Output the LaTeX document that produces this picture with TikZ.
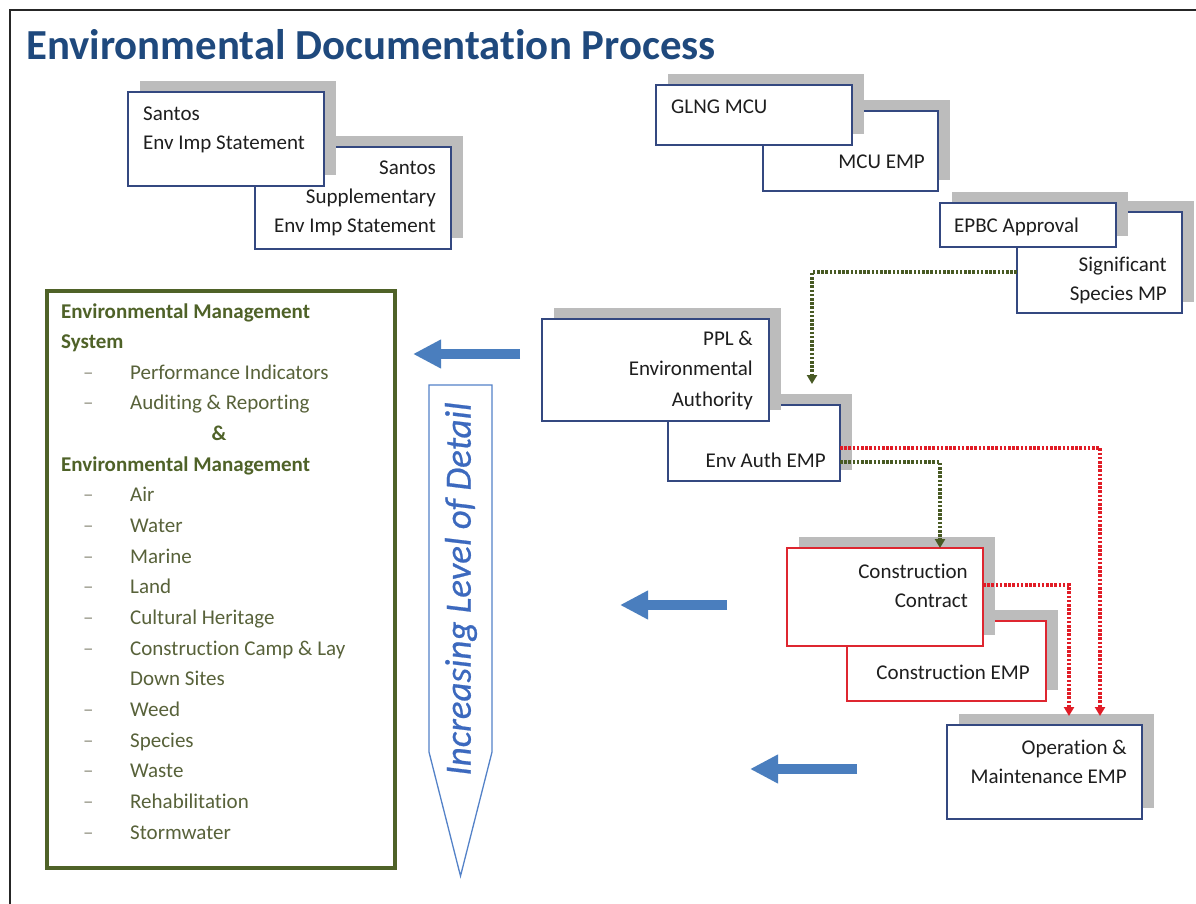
\documentclass[tikz,border=0pt]{standalone}
\usepackage{fontspec}
\setmainfont{Carlito}[Ligatures={NoCommon}]
\newfontfamily\detailfont{Carlito}[ItalicFeatures={FakeBold=0.6}]
\usetikzlibrary{arrows.meta,calc}

\definecolor{titleblue}{RGB}{31,73,125}
\definecolor{boxblue}{RGB}{52,72,128}
\definecolor{boxred}{RGB}{222,38,48}
\definecolor{shadowgray}{RGB}{188,188,188}
\definecolor{ink}{RGB}{30,30,30}
\definecolor{olive}{RGB}{79,98,40}
\definecolor{olivetext}{RGB}{88,98,58}
\definecolor{dashgray}{RGB}{150,150,135}
\definecolor{arrowblue}{RGB}{74,126,190}
\definecolor{pentblue}{RGB}{84,130,200}
\definecolor{detailblue}{RGB}{60,105,190}
\definecolor{dotred}{RGB}{225,28,38}
\definecolor{dotgreen}{RGB}{72,90,36}

\tikzset{
  docbox/.style={rectangle, draw=boxblue, line width=1.2pt, fill=white, inner sep=0pt, outer sep=0pt},
  redbox/.style={docbox, draw=boxred},
  boxtext/.style={font=\fontsize{21}{29}\selectfont, text=ink, inner sep=0pt},
  panelhead/.style={font=\fontsize{21}{29}\selectfont\bfseries, text=olive, inner sep=0pt, anchor=base west},
  paneltext/.style={font=\fontsize{21}{29}\selectfont, text=olivetext, inner sep=0pt, anchor=base west},
  dashmark/.style={font=\fontsize{21}{29}\selectfont, text=dashgray, inner sep=0pt, anchor=base west},
  greendots/.style={draw=dotgreen, line width=3.2pt, dash pattern=on 2.6pt off 1.6pt, -{Triangle[width=10pt,length=9pt,fill=dotgreen]}},
  reddots/.style={draw=dotred, line width=3.2pt, dash pattern=on 2.6pt off 1.6pt, -{Triangle[width=10pt,length=9pt,fill=dotred]}},
  blockarrow/.style={draw=arrowblue, line width=10pt, -{Triangle[width=27pt,length=28pt]}},
}

% shadowed document box: name, style, left, top, right, bottom
\newcommand\shadowdoc[6]{%
  \fill[shadowgray] (#3+12,#4-11) rectangle (#5+12,#6-11);
  \node[#2, anchor=north west, minimum width={(#5-#3)*1pt}, minimum height={(#6-#4)*1pt}] (#1) at (#3,#4) {};
}

\begin{document}
\begin{tikzpicture}[x=1pt,y=-1pt]
\useasboundingbox (0,0) rectangle (1196,904);
\fill[white] (0,0) rectangle (1196,904);

% page frame
\draw[line width=2.5pt, draw=black!85] (10,904) -- (10,10) -- (1196,10);

% title
\node[font=\fontsize{42.8}{48}\selectfont\bfseries, text=titleblue, inner sep=0pt, anchor=base west] (title) at (26,60) {Environmental Documentation Process};

% --- document boxes (lower box of each pair first) ---
\shadowdoc{ssup}{docbox}{255}{147}{451}{249}
\shadowdoc{seis}{docbox}{128}{92}{324}{186}
\node[boxtext, anchor=base west] (seis1) at (143,121) {Santos};
\node[boxtext, anchor=base west] (seis2) at (143,150) {Env Imp Statement};
\node[boxtext, anchor=base east] (ssup1) at (436,175) {Santos};
\node[boxtext, anchor=base east] (ssup2) at (436,204) {Supplementary};
\node[boxtext, anchor=base east] (ssup3) at (436,233) {Env Imp Statement};

\shadowdoc{mcuemp}{docbox}{763}{111}{938}{191}
\shadowdoc{glng}{docbox}{656}{85}{852}{145}
\node[boxtext, anchor=base west] (glng1) at (671,114) {GLNG MCU};
\node[boxtext, anchor=base east] (mcuemp1) at (925,169) {MCU EMP};

\shadowdoc{sig}{docbox}{1017}{212}{1182}{313}
\shadowdoc{epbc}{docbox}{940}{203}{1116}{247}
\node[boxtext, anchor=base west] (epbc1) at (954,232) {EPBC Approval};
\node[boxtext, anchor=base east] (sig1) at (1167,271) {Significant};
\node[boxtext, anchor=base east] (sig2) at (1167,300) {Species MP};

\shadowdoc{eaemp}{docbox}{668}{405}{840}{481}
\shadowdoc{ppl}{docbox}{542}{319}{769}{421}
\node[boxtext, anchor=base east] (ppl1) at (753,345) {PPL \&};
\node[boxtext, anchor=base east] (ppl2) at (753,375) {Environmental};
\node[boxtext, anchor=base east] (ppl3) at (753,406) {Authority};
\node[boxtext, anchor=base east] (eaemp1) at (826,467) {Env Auth EMP};

\shadowdoc{cemp}{redbox}{847}{621}{1046}{701}
\shadowdoc{cc}{redbox}{787}{548}{983}{646}
\node[boxtext, anchor=base east] (cc1) at (968,578) {Construction};
\node[boxtext, anchor=base east] (cc2) at (968,607) {Contract};
\node[boxtext, anchor=base east] (cemp1) at (1030,679) {Construction EMP};

\shadowdoc{om}{docbox}{947}{725}{1142}{819}
\node[boxtext, anchor=base east] (om1) at (1127,754) {Operation \&};
\node[boxtext, anchor=base east] (om2) at (1127,783) {Maintenance EMP};

% --- dotted flow connectors ---
\coordinate (eatip) at (812,384);
\draw[greendots] ([yshift=-9.5pt]sig.west) -| (eatip);
\draw[reddots] ([yshift=-5pt]eaemp.east) -| ([xshift=55.5pt,yshift=9pt]om.north);
\draw[greendots] ([yshift=-19pt]eaemp.east) -| ([xshift=55pt]cc.north);
\draw[reddots] ([yshift=12pt]cc.east) -| ([xshift=24.5pt,yshift=9pt]om.north);

% --- block arrows pointing at the management system ---
\coordinate (a1s) at (520,354); \coordinate (a1e) at (413,354);
\coordinate (a2s) at (727,605); \coordinate (a2e) at (620,605);
\coordinate (a3s) at (857,769); \coordinate (a3e) at (750,769);
\draw[blockarrow] (a1s) -- (a1e);
\draw[blockarrow] (a2s) -- (a2e);
\draw[blockarrow] (a3s) -- (a3e);

% --- level of detail pointer ---
\draw[draw=pentblue, line width=1.3pt, fill=white, line join=miter]
  (429,385) -- (492,385) -- (492,752) -- (460.5,876) -- (429,752) -- cycle;
\node[rotate=90, font=\detailfont\fontsize{37}{42}\selectfont\itshape, text=detailblue, inner sep=0pt] (detail) at (461,589) {Increasing Level of Detail};

% --- management system panel ---
\node[draw=olive, line width=3.5pt, rectangle, inner sep=0pt, anchor=north west, minimum width=348pt, minimum height=577pt] (ems) at (45,289) {};
\node[panelhead] (h0) at (61,318) {Environmental Management};
\node[panelhead] (h1) at (61,348.65) {System};
\node[panelhead, anchor=base] (amp) at (219,440.6) {\&};
\node[panelhead] (h5) at (61,471.25) {Environmental Management};
\foreach \i/\txt in {2/Performance Indicators, 3/Auditing \& Reporting, 6/Air, 7/Water, 8/Marine, 9/Land, 10/Cultural Heritage, 11/Construction Camp \& Lay, 12/Down Sites, 13/Weed, 14/Species, 15/Waste, 16/Rehabilitation, 17/Stormwater}
  \node[paneltext] (item\i) at (130,{318+30.65*\i}) {\txt};
\foreach \i in {2,3,6,7,8,9,10,11,13,14,15,16,17}
  \node[dashmark] (dash\i) at (83,{318+30.65*\i}) {–};
\end{tikzpicture}
\end{document}
